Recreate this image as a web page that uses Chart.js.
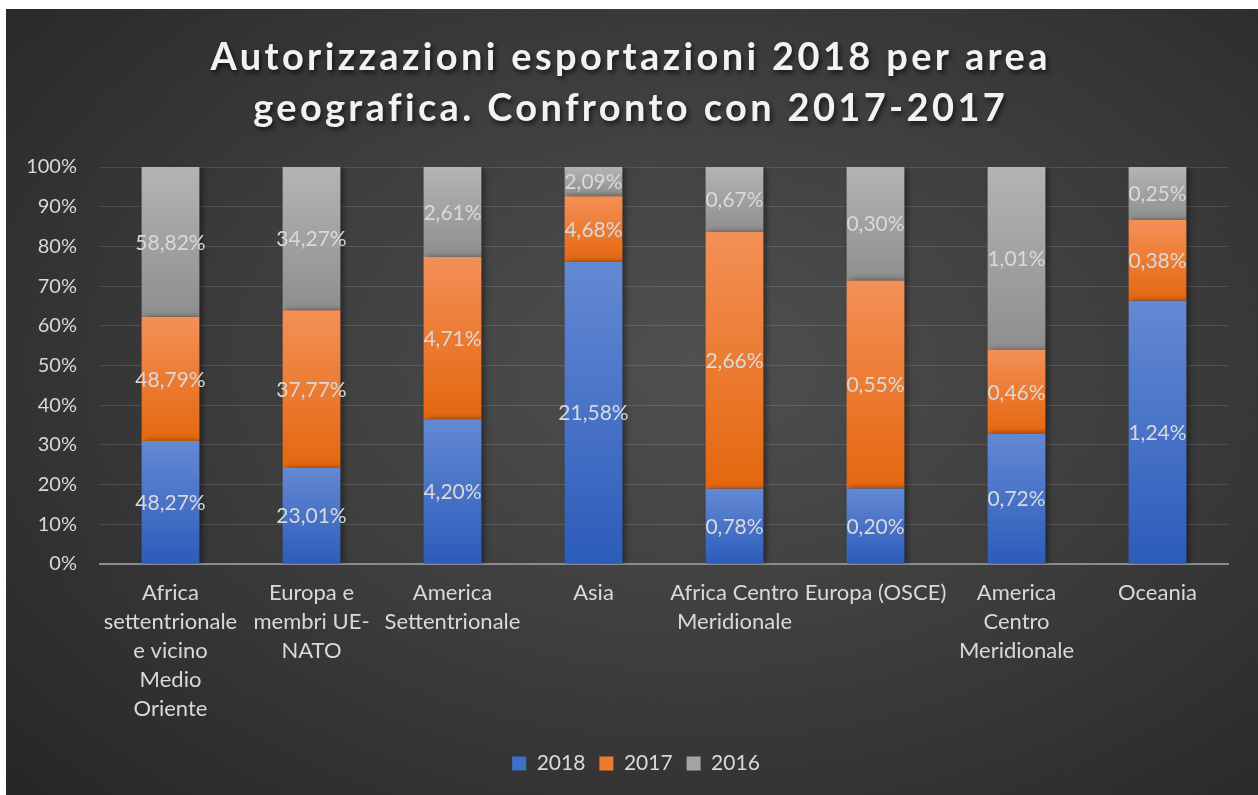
<!DOCTYPE html>
<html>
<head>
<meta charset="utf-8">
<script src="https://cdn.jsdelivr.net/npm/chart.js@4.4.0/dist/chart.umd.min.js"></script>
<style>
  html,body{margin:0;padding:0;background:#fff;}
  #box{position:absolute;left:6px;top:9px;width:1252px;height:786px;
    background:radial-gradient(ellipse 75% 80% at 55% 45%, #505050 0%, #3c3c3c 50%, #262626 100%);}
  #c{display:block;}
</style>
</head>
<body>
<div id="box"><canvas id="c" width="1252" height="786"></canvas></div>
<script>
const categories = [
  ['Africa','settentrionale','e vicino','Medio','Oriente'],
  ['Europa e','membri UE-','NATO'],
  ['America','Settentrionale'],
  'Asia',
  ['Africa Centro','Meridionale'],
  'Europa (OSCE)',
  ['America','Centro','Meridionale'],
  'Oceania'
];
const years = ['2018','2017','2016'];
const v2018 = [48.27, 23.01, 4.20, 21.58, 0.78, 0.20, 0.72, 1.24];
const v2017 = [48.79, 37.77, 4.71, 4.68, 2.66, 0.55, 0.46, 0.38];
const v2016 = [58.82, 34.27, 2.61, 2.09, 0.67, 0.30, 1.01, 0.25];
const titleLines = ['Autorizzazioni esportazioni 2018 per area', 'geografica. Confronto con 2017-2017'];

const series = [v2018, v2017, v2016];
const totals = categories.map((_,i)=>series.reduce((s,a)=>s+a[i],0));
const shares = series.map(a=>a.map((v,i)=>v/totals[i]*100));   // 100% in pila

const grads = [
  ['#6489d3','#2c5cba','#3f6fc6'],   // 2018 blu
  ['#f39057','#e4670f','#ee7a2e'],   // 2017 arancio
  ['#b4b4b4','#8e8e8e','#a4a4a4'],   // 2016 grigio
];
const fmt = v => v.toFixed(2).replace('.',',')+'%';
const FONT = 'Lato';

function segFill(di){
  return ctx=>{
    const g = grads[di];
    const {chart, dataIndex} = ctx;
    const y = chart.scales && chart.scales.y;
    if(dataIndex===undefined || !y || y.top===undefined) return g[2];
    let lo=0; for(let k=0;k<di;k++) lo+=shares[k][dataIndex];
    const hi = lo+shares[di][dataIndex];
    const top=y.getPixelForValue(hi), bot=y.getPixelForValue(lo);
    if(!isFinite(top)||!isFinite(bot)||top===bot) return g[2];
    const lg = chart.ctx.createLinearGradient(0,top,0,bot);
    lg.addColorStop(0,g[0]); lg.addColorStop(1,g[1]);
    return lg;
  };
}

// etichette + ombra barre
const barDeco = {
  id:'barDeco',
  afterLayout(chart){
    // legenda centrata sull'intera area, non sul grafico
    const L=chart.legend; if(L){ L.left+=19; L.right+=19; }
  },
  beforeDatasetsDraw(chart){
    const c=chart.ctx; c.save();
    c.shadowColor='rgba(0,0,0,0.45)'; c.shadowBlur=6; c.shadowOffsetX=3; c.shadowOffsetY=0;
  },
  afterDatasetsDraw(chart){
    const c=chart.ctx; c.restore();
    c.save();
    c.font='21px '+FONT; c.fillStyle='#d9d9d9';
    c.textAlign='center'; c.textBaseline='middle';
    chart.data.datasets.forEach((ds,di)=>{
      chart.getDatasetMeta(di).data.forEach((bar,i)=>{
        const p=bar.getProps(['x','y','base'],true);
        c.fillText(fmt(ds.rawValues[i]), p.x, (p.y+p.base)/2+1);
      });
    });
    c.restore();
  }
};

// titolo con spaziatura lettere
const titleDraw = {
  id:'titleDraw',
  afterDraw(chart){
    const c=chart.ctx; c.save();
    c.font='bold 38px '+FONT; c.fillStyle='#f2f2f2';
    c.textAlign='center'; c.textBaseline='alphabetic';
    c.letterSpacing='0px';
    const w0=c.measureText(titleLines[0]).width;
    const sp=Math.max(0,(837-w0)/(titleLines[0].length-1));
    c.letterSpacing=sp+'px';
    c.shadowColor='rgba(0,0,0,0.65)'; c.shadowBlur=5; c.shadowOffsetX=2; c.shadowOffsetY=3;
    titleLines.forEach((t,i)=>c.fillText(t, 623+sp/2, 61+i*51));
    c.restore();
  }
};

function draw(){
  new Chart(document.getElementById('c'),{
    type:'bar',
    data:{
      labels:categories,
      datasets:years.map((yr,di)=>({
        label:yr,
        data:shares[di],
        rawValues:series[di],
        backgroundColor:segFill(di),
        borderWidth:0,
        barPercentage:1,
        categoryPercentage:0.41
      }))
    },
    options:{
      responsive:false, animation:false,
      layout:{padding:{top:158,right:30,bottom:11,left:0}},
      plugins:{
        title:{display:false},
        tooltip:{enabled:false},
        legend:{
          position:'bottom',
          labels:{
            color:'#d9d9d9', font:{family:FONT,size:21},
            boxWidth:14, boxHeight:14, padding:14,
            generateLabels:ch=>years.map((yr,di)=>({
              text:yr, fillStyle:grads[di][2], strokeStyle:grads[di][2], lineWidth:0,
              fontColor:'#d9d9d9', datasetIndex:di, hidden:false
            }))
          }
        }
      },
      scales:{
        x:{
          stacked:true,
          grid:{display:false, drawTicks:false},
          border:{display:true, color:'#8c8c8c', width:2},
          ticks:{color:'#d9d9d9', font:{family:FONT,size:22,lineHeight:1.32}, padding:14,
                 autoSkip:false, maxRotation:0, minRotation:0},
          afterFit:s=>{s.height=175;}
        },
        y:{
          stacked:true, min:0, max:100,
          grid:{color:'rgba(255,255,255,0.12)', lineWidth:1, drawTicks:false},
          border:{display:false},
          ticks:{stepSize:10, color:'#d9d9d9', font:{family:FONT,size:20}, padding:23,
                 callback:v=>v+'%'},
          afterFit:s=>{s.width=94;}
        }
      }
    },
    plugins:[barDeco,titleDraw]
  });
}
document.fonts.load('20px '+FONT).then(()=>document.fonts.load('bold 38px '+FONT)).then(draw,draw);
</script>
</body>
</html>
